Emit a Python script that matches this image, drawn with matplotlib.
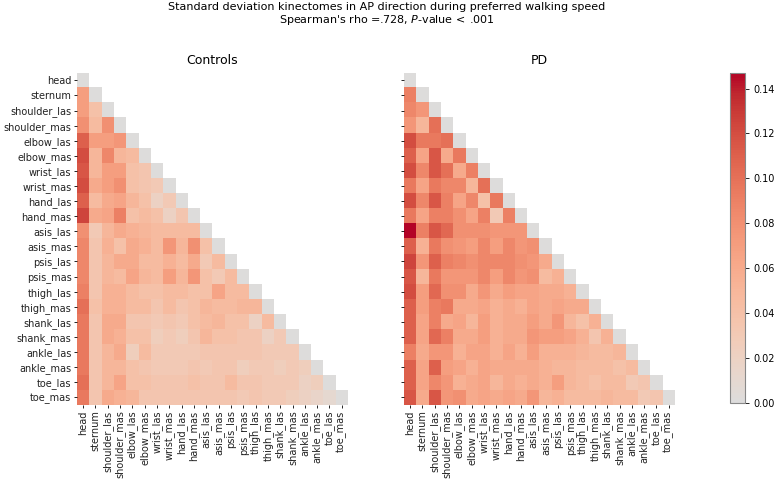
import numpy as np
import matplotlib
matplotlib.use("Agg")
import matplotlib.pyplot as plt
from matplotlib.colors import LinearSegmentedColormap

# segment labels (rows / columns of the kinectome)
labels = ["head", "sternum", "shoulder_las", "shoulder_mas", "elbow_las", "elbow_mas",
          "wrist_las", "wrist_mas", "hand_las", "hand_mas", "asis_las", "asis_mas",
          "psis_las", "psis_mas", "thigh_las", "thigh_mas", "shank_las", "shank_mas",
          "ankle_las", "ankle_mas", "toe_las", "toe_mas"]

# lower triangle, row i holds columns 0..i-1 (diagonal is 0)
ctrl_rows = [
    [],
    [0.07],
    [0.07, 0.04],
    [0.08, 0.045, 0.08],
    [0.11, 0.07, 0.07, 0.075],
    [0.12, 0.05, 0.085, 0.05, 0.045],
    [0.115, 0.05, 0.07, 0.07, 0.04, 0.035],
    [0.12, 0.06, 0.07, 0.08, 0.04, 0.035, 0.03],
    [0.11, 0.045, 0.06, 0.065, 0.05, 0.04, 0.02, 0.03],
    [0.125, 0.06, 0.065, 0.09, 0.04, 0.045, 0.04, 0.02, 0.035],
    [0.08, 0.03, 0.05, 0.06, 0.055, 0.05, 0.045, 0.045, 0.045, 0.045],
    [0.085, 0.035, 0.055, 0.04, 0.06, 0.055, 0.045, 0.075, 0.05, 0.08, 0.04],
    [0.085, 0.035, 0.05, 0.06, 0.06, 0.045, 0.045, 0.055, 0.045, 0.06, 0.03, 0.045],
    [0.085, 0.035, 0.05, 0.045, 0.065, 0.05, 0.045, 0.07, 0.05, 0.075, 0.04, 0.03, 0.045],
    [0.09, 0.035, 0.055, 0.055, 0.045, 0.04, 0.04, 0.045, 0.045, 0.04, 0.04, 0.065, 0.045, 0.045],
    [0.10, 0.04, 0.055, 0.055, 0.045, 0.045, 0.035, 0.045, 0.035, 0.04, 0.05, 0.045, 0.045, 0.05, 0.05],
    [0.095, 0.035, 0.06, 0.06, 0.035, 0.035, 0.03, 0.035, 0.03, 0.04, 0.045, 0.05, 0.04, 0.04, 0.02, 0.045],
    [0.095, 0.035, 0.06, 0.055, 0.04, 0.04, 0.025, 0.03, 0.025, 0.035, 0.05, 0.04, 0.04, 0.035, 0.035, 0.02, 0.03],
    [0.095, 0.035, 0.05, 0.06, 0.025, 0.045, 0.03, 0.03, 0.03, 0.03, 0.035, 0.035, 0.035, 0.035, 0.035, 0.03, 0.03, 0.03],
    [0.095, 0.035, 0.05, 0.05, 0.04, 0.035, 0.03, 0.03, 0.03, 0.035, 0.03, 0.035, 0.035, 0.025, 0.03, 0.03, 0.025, 0.03, 0.025],
    [0.10, 0.035, 0.05, 0.065, 0.04, 0.04, 0.035, 0.035, 0.035, 0.04, 0.035, 0.035, 0.045, 0.035, 0.035, 0.03, 0.03, 0.03, 0.02, 0.025],
    [0.095, 0.035, 0.06, 0.055, 0.05, 0.035, 0.035, 0.035, 0.035, 0.035, 0.035, 0.035, 0.035, 0.03, 0.035, 0.03, 0.03, 0.025, 0.02, 0.015, 0.01],
]

pd_rows = [
    [],
    [0.09],
    [0.085, 0.075],
    [0.075, 0.05, 0.10],
    [0.12, 0.095, 0.095, 0.10],
    [0.11, 0.065, 0.115, 0.06, 0.095],
    [0.12, 0.085, 0.115, 0.10, 0.06, 0.09],
    [0.095, 0.065, 0.095, 0.085, 0.085, 0.05, 0.10],
    [0.12, 0.085, 0.115, 0.09, 0.065, 0.085, 0.04, 0.095],
    [0.095, 0.065, 0.09, 0.09, 0.08, 0.065, 0.09, 0.03, 0.09],
    [0.147, 0.09, 0.115, 0.105, 0.08, 0.08, 0.08, 0.075, 0.075, 0.075],
    [0.11, 0.055, 0.095, 0.08, 0.075, 0.07, 0.085, 0.07, 0.085, 0.075, 0.08],
    [0.125, 0.075, 0.11, 0.09, 0.085, 0.08, 0.085, 0.085, 0.085, 0.08, 0.075, 0.06],
    [0.115, 0.05, 0.095, 0.075, 0.075, 0.075, 0.085, 0.07, 0.085, 0.075, 0.08, 0.045, 0.055],
    [0.12, 0.07, 0.105, 0.08, 0.08, 0.06, 0.075, 0.06, 0.07, 0.065, 0.065, 0.06, 0.06, 0.055],
    [0.11, 0.07, 0.09, 0.095, 0.06, 0.06, 0.065, 0.055, 0.06, 0.055, 0.065, 0.06, 0.065, 0.06, 0.06],
    [0.11, 0.065, 0.09, 0.06, 0.065, 0.05, 0.07, 0.055, 0.06, 0.06, 0.07, 0.06, 0.075, 0.05, 0.04, 0.055],
    [0.11, 0.065, 0.105, 0.09, 0.06, 0.06, 0.07, 0.055, 0.06, 0.06, 0.075, 0.07, 0.07, 0.065, 0.055, 0.035, 0.055],
    [0.09, 0.06, 0.075, 0.075, 0.055, 0.065, 0.065, 0.055, 0.065, 0.055, 0.07, 0.055, 0.055, 0.055, 0.05, 0.045, 0.045, 0.05],
    [0.11, 0.065, 0.11, 0.07, 0.065, 0.055, 0.065, 0.06, 0.06, 0.06, 0.06, 0.055, 0.05, 0.05, 0.045, 0.045, 0.045, 0.04, 0.045],
    [0.11, 0.065, 0.085, 0.075, 0.055, 0.06, 0.065, 0.05, 0.06, 0.055, 0.06, 0.055, 0.07, 0.05, 0.045, 0.04, 0.045, 0.045, 0.03, 0.035],
    [0.115, 0.06, 0.115, 0.075, 0.08, 0.06, 0.065, 0.06, 0.065, 0.06, 0.075, 0.05, 0.055, 0.045, 0.045, 0.045, 0.05, 0.045, 0.045, 0.03, 0.035],
]

vmin, vmax = 0.0, 0.147
cbar_ticks = [0.00, 0.02, 0.04, 0.06, 0.08, 0.10, 0.12, 0.14]


def to_matrix(rows):
    n = len(labels)
    m = np.full((n, n), np.nan)
    for i, r in enumerate(rows):
        m[i, :len(r)] = r
        m[i, i] = 0.0
    return np.ma.masked_invalid(m)


# upper half of coolwarm: grey -> red
cw = plt.get_cmap("coolwarm")
cmap = LinearSegmentedColormap.from_list("half_cw", cw(np.linspace(0.5, 1.0, 256)))

fig = plt.figure(figsize=(7.74, 4.82), dpi=100)
ax1 = fig.add_axes([0.0995, 0.160, 0.350, 0.689])
ax2 = fig.add_axes([0.522, 0.160, 0.350, 0.689])
cax = fig.add_axes([0.943, 0.164, 0.019, 0.685])

n = len(labels)
for ax, rows, title in [(ax1, ctrl_rows, "Controls"), (ax2, pd_rows, "PD")]:
    im = ax.imshow(to_matrix(rows), cmap=cmap, vmin=vmin, vmax=vmax,
                   aspect="auto", interpolation="nearest")
    ax.set_xticks(np.arange(n))
    ax.set_xticklabels(labels, rotation=90, fontsize=7, color="#222222")
    ax.set_yticks(np.arange(n))
    if ax is ax1:
        ax.set_yticklabels(labels, fontsize=7, color="#222222")
    else:
        ax.set_yticklabels([])
        ax.tick_params(axis="y", length=0)
    ax.tick_params(length=2.5, width=0.6, pad=1.5)
    for s in ax.spines.values():
        s.set_visible(False)
    ax.set_title(title, fontsize=9, pad=6)

cb = fig.colorbar(im, cax=cax, ticks=cbar_ticks)
cb.ax.tick_params(labelsize=7, length=3, width=0.6)
cb.ax.set_yticklabels(["%.2f" % t for t in cbar_ticks])
cb.outline.set_edgecolor("#888888")
cb.outline.set_linewidth(0.8)

fig.suptitle("Standard deviation kinectomes in AP direction during preferred walking speed\n"
             "Spearman's rho =.728, $P$-value$\\,<\\,$.001",
             fontsize=8, y=0.995, linespacing=1.1)

fig.savefig("out.png", dpi=100)
